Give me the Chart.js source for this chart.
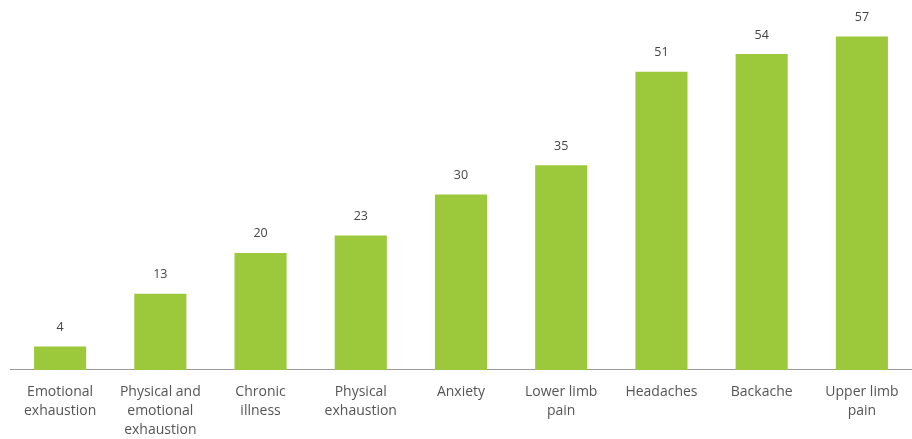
<!DOCTYPE html>
<html>
<head>
<meta charset="utf-8">
<script src="https://cdn.jsdelivr.net/npm/chart.js@4/dist/chart.umd.min.js"></script>
<style>
  html, body { margin: 0; padding: 0; background: #fff; }
  #wrap { width: 912px; height: 439px; }
</style>
</head>
<body>
<div id="wrap"><canvas id="bar_chart"></canvas></div>
<script>
var categories = [
  ['Emotional', 'exhaustion'],
  ['Physical and', 'emotional', 'exhaustion'],
  ['Chronic', 'illness'],
  ['Physical', 'exhaustion'],
  ['Anxiety'],
  ['Lower limb', 'pain'],
  ['Headaches'],
  ['Backache'],
  ['Upper limb', 'pain']
];
var values = [4, 13, 20, 23, 30, 35, 51, 54, 57];

var valueLabels = {
  id: 'valueLabels',
  afterDatasetsDraw: function(chart) {
    var ctx = chart.ctx;
    var meta = chart.getDatasetMeta(0);
    ctx.save();
    ctx.font = '12.5px "Open Sans", sans-serif';
    ctx.fillStyle = '#444';
    ctx.textAlign = 'center';
    ctx.textBaseline = 'middle';
    meta.data.forEach(function(bar, i) {
      ctx.fillText(values[i], bar.x, bar.y - 19);
    });
    ctx.restore();
  }
};

var barChart = new Chart(document.getElementById('bar_chart'), {
  type: 'bar',
  data: {
    labels: categories,
    datasets: [{
      data: values,
      backgroundColor: '#9cc93b',
      barPercentage: 0.52,
      categoryPercentage: 1
    }]
  },
  options: {
    responsive: true,
    maintainAspectRatio: false,
    animation: false,
    layout: { padding: { left: 10, right: 0, top: 19, bottom: -14 } },
    plugins: {
      legend: { display: false },
      tooltip: { enabled: false }
    },
    scales: {
      x: {
        grid: { display: false, drawTicks: false },
        border: { display: true, color: '#9a9a9a', width: 1 },
        ticks: {
          color: '#555',
          padding: 13,
          maxRotation: 0,
          autoSkip: false,
          font: { family: '"Open Sans", sans-serif', size: 14, lineHeight: 1.36 }
        }
      },
      y: {
        display: false,
        min: 0,
        max: 60
      }
    }
  },
  plugins: [valueLabels]
});
</script>
</body>
</html>
